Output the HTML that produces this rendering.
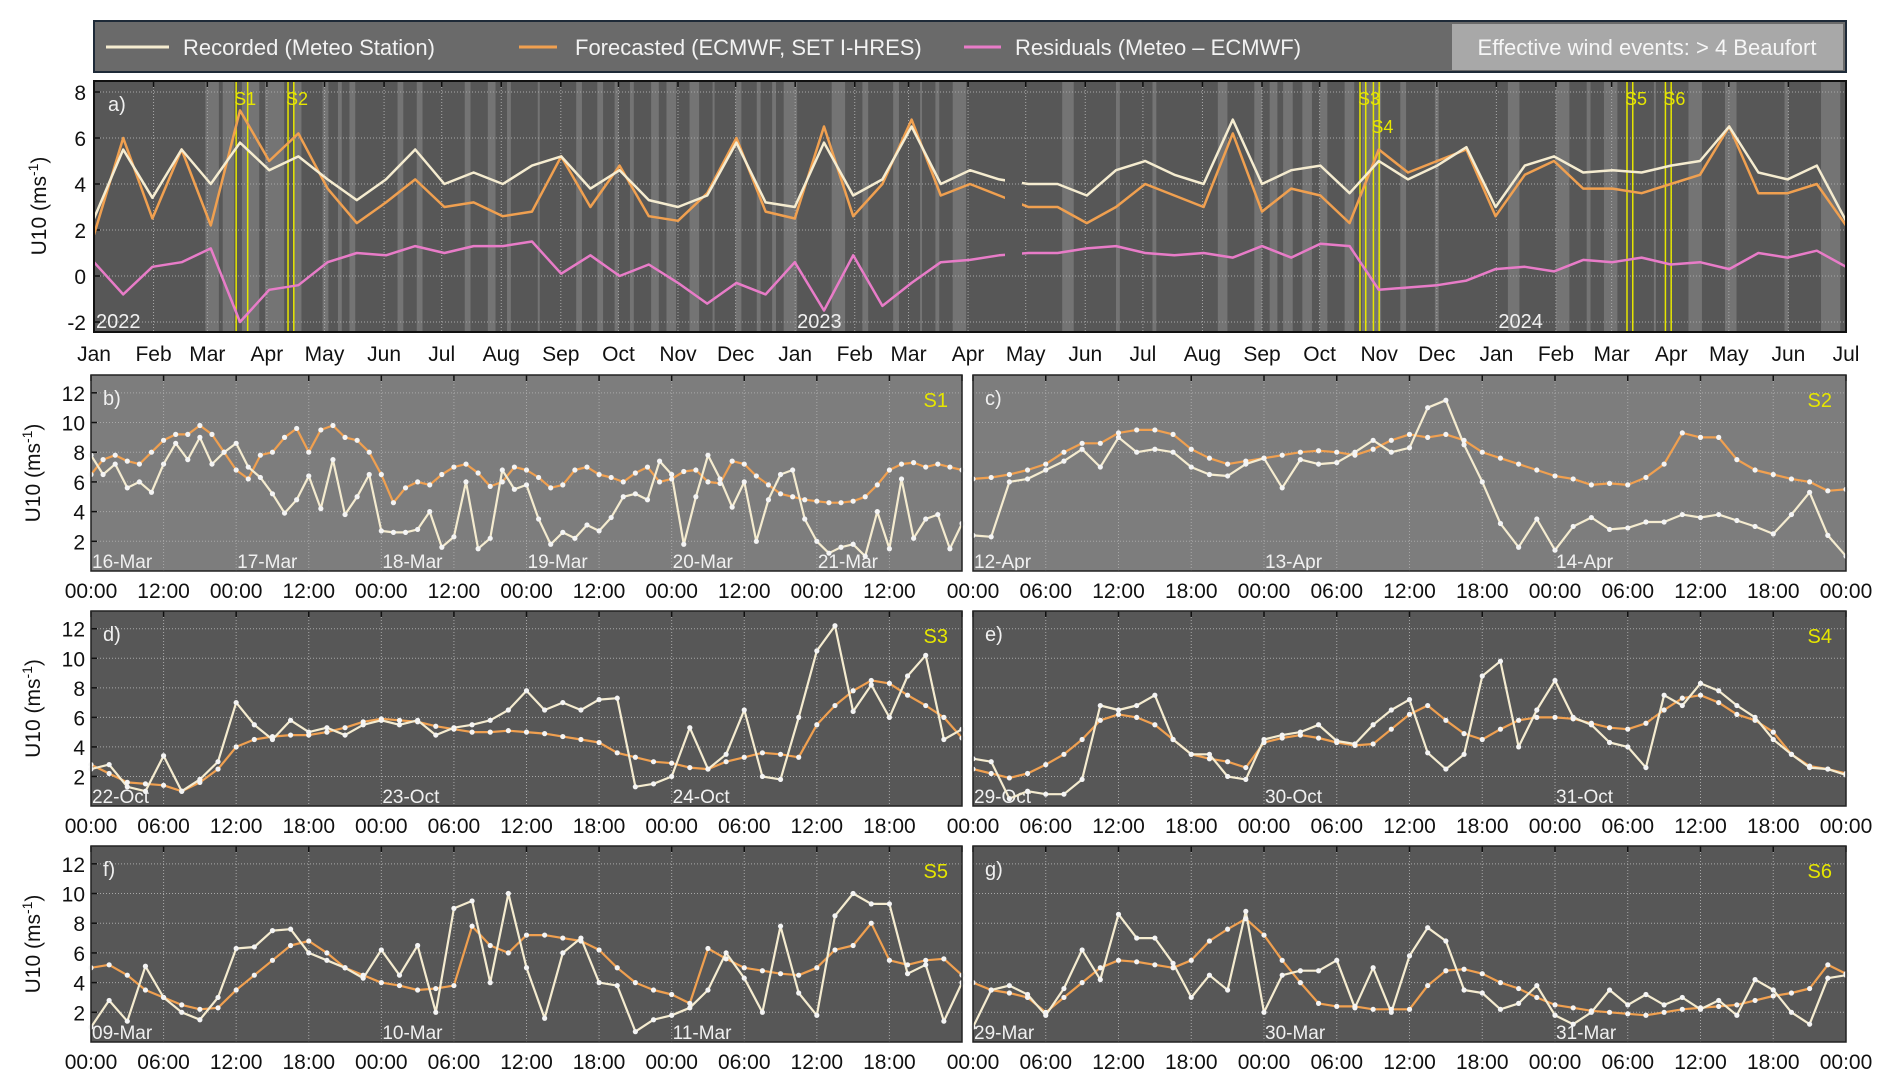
<!DOCTYPE html>
<html><head><meta charset="utf-8"><style>
html,body{margin:0;padding:0;background:#fff;}
svg{display:block;font-family:"Liberation Sans",Arial,sans-serif;}
</style></head><body>
<svg id="chart" width="1892" height="1089" viewBox="0 0 1892 1089" xmlns="http://www.w3.org/2000/svg">
<defs><clipPath id="gapclip"><rect x="94" y="81" width="911" height="251"/><rect x="1022" y="81" width="824" height="251"/></clipPath></defs>
<g id="legend">
<rect x="94" y="21" width="1752" height="51" fill="#6a6a6a" stroke="#1e2a38" stroke-width="2"/>
<rect x="1452" y="24" width="391" height="46" fill="#a8a8a8"/>
<g><line x1="106" y1="47" x2="169" y2="47" stroke="#f5ecd0" stroke-width="3"/><text x="183" y="55" fill="#f2f2f2" font-size="22">Recorded (Meteo Station)</text></g>
<g><line x1="519" y1="47" x2="557" y2="47" stroke="#f0a050" stroke-width="3"/><text x="575" y="55" fill="#f2f2f2" font-size="22">Forecasted (ECMWF, SET I-HRES)</text></g>
<g><line x1="964" y1="47" x2="1001" y2="47" stroke="#e87cc8" stroke-width="3"/><text x="1015" y="55" fill="#f2f2f2" font-size="22">Residuals (Meteo – ECMWF)</text></g>
<text x="1647" y="55" fill="#f6f6f6" font-size="22" text-anchor="middle">Effective wind events: &gt; 4 Beaufort</text>
</g>
</svg>
<script>
// ---------- Panel a data (semi-monthly, day index = i*15.2 from 1-Jan-2022) ----------
const recordedA=[2.5,5.5,3.4,5.5,4.0,5.8,4.6,5.2,4.2,3.3,4.2,5.5,4.0,4.5,4.0,4.8,5.2,3.8,4.6,3.3,3.0,3.5,5.8,3.2,
3.0,5.8,3.5,4.2,6.5,4.0,4.6,4.2,4.0,4.0,3.5,4.6,5.0,4.4,4.0,6.8,4.0,4.6,4.8,3.6,5.0,4.2,4.8,5.6,
3.0,4.8,5.2,4.5,4.6,4.5,4.8,5.0,6.5,4.5,4.2,4.8,2.4];
const forecastA=[1.8,6.0,2.5,5.5,2.2,7.2,5.0,6.2,3.8,2.3,3.2,4.2,3.0,3.2,2.6,2.8,5.2,3.0,4.8,2.6,2.4,3.6,6.0,2.8,
2.5,6.5,2.6,4.0,6.8,3.5,4.0,3.5,3.0,3.0,2.3,3.0,4.0,3.5,3.0,6.2,2.8,3.8,3.5,2.3,5.5,4.5,5.0,5.5,
2.6,4.4,5.0,3.8,3.8,3.6,4.0,4.4,6.5,3.6,3.6,4.0,2.2];
const residualA=[0.6,-0.8,0.4,0.6,1.2,-2.0,-0.6,-0.4,0.6,1.0,0.9,1.3,1.0,1.3,1.3,1.5,0.1,0.9,0.0,0.5,-0.3,-1.2,-0.3,-0.8,
0.6,-1.5,0.9,-1.3,-0.3,0.6,0.7,0.9,1.0,1.0,1.2,1.3,1.0,0.9,1.0,0.8,1.3,0.8,1.4,1.3,-0.6,-0.5,-0.4,-0.2,
0.3,0.4,0.2,0.7,0.6,0.8,0.5,0.6,0.3,1.0,0.8,1.1,0.4];
const monthLabels=["Jan","Feb","Mar","Apr","May","Jun","Jul","Aug","Sep","Oct","Nov","Dec","Jan","Feb","Mar","Apr","May","Jun","Jul","Aug","Sep","Oct","Nov","Dec","Jan","Feb","Mar","Apr","May","Jun","Jul"];
const monthDays=[0,31,59,90,120,151,181,212,243,273,304,334,365,396,424,455,485,516,546,577,608,638,669,699,730,761,790,821,851,882,912];
const yearLabels=["2022","2023","2024"];
const yearDays=[0,365,730];
const yTicksA=[-2,0,2,4,6,8];
const eventBands=[[58,65],[67,73],[77,86],[89,99],[104,108],[119,122],[127,129],[133,136],[158,161],[168,171],[193,196],[205,209],[215,217],[231,232],[251,254],[262,265],[271,273],[279,281],[290,294],[298,303],[310,315],[322,323],[334,337],[345,347],[353,355],[359,366],[384,391],[400,403],[416,419],[430,431],[438,440],[447,454],[504,510],[532,534],[551,553],[585,590],[604,608],[612,616],[619,624],[629,634],[638,642],[651,656],[660,670],[680,683],[698,700],[736,742],[761,768],[777,779],[786,793],[812,813],[830,837],[849,855],[880,882],[899,909]];
const stormNames=["S1","S2","S3","S4","S5","S6"];
const stormStart=[74,101,659,666,798,818];
const stormEnd=[80,104,662,669,801,821];

// ---------- Zoom panels ----------
const recB=[7.8,6.5,7.2,5.6,6.0,5.3,7.2,8.6,7.5,9.0,7.2,8.0,8.6,7.0,6.3,5.2,3.9,4.8,6.4,4.2,7.5,3.8,5.0,6.5,2.7,2.6,2.6,2.8,4.0,1.6,2.3,6.0,1.5,2.2,6.8,5.5,5.8,3.5,1.8,2.6,2.2,3.1,2.7,3.6,5.0,5.2,4.8,7.4,6.5,1.8,5.0,7.8,6.2,4.3,6.0,2.0,4.8,6.5,6.8,3.5,2.0,1.2,1.6,1.8,1.0,4.0,1.5,6.2,2.2,3.5,3.8,1.5,3.2];
const fcB=[6.5,7.5,7.8,7.4,7.2,8.0,8.8,9.2,9.2,9.8,9.2,8.0,6.8,6.2,7.8,8.0,9.0,9.6,8.0,9.5,9.8,9.0,8.8,8.0,6.5,4.6,5.6,6.0,5.8,6.5,7.0,7.2,6.6,5.7,6.0,7.0,6.8,6.3,5.6,5.8,6.8,7.0,6.5,6.3,6.0,6.6,7.0,6.0,6.2,6.7,6.8,6.0,5.9,7.4,7.2,6.4,5.8,5.2,5.0,4.8,4.7,4.6,4.6,4.7,5.0,5.8,6.8,7.2,7.3,7.0,7.2,7.0,6.8];
const recC=[2.4,2.3,6.0,6.2,6.8,7.4,8.2,7.0,9.0,8.0,8.2,8.0,7.0,6.5,6.4,7.2,7.6,5.6,7.5,7.2,7.3,8.0,8.8,8.0,8.3,11.0,11.5,8.5,6.0,3.2,1.6,3.5,1.4,3.0,3.6,2.8,2.9,3.3,3.3,3.8,3.6,3.8,3.4,3.0,2.5,3.8,5.3,2.4,1.0];
const fcC=[6.2,6.3,6.5,6.8,7.2,8.0,8.6,8.6,9.3,9.5,9.5,9.2,8.2,7.6,7.2,7.4,7.6,7.8,8.0,8.1,8.0,7.8,8.2,8.8,9.2,9.0,9.2,8.8,8.0,7.6,7.2,6.8,6.4,6.2,5.8,5.9,5.8,6.3,7.2,9.3,9.0,9.0,7.5,6.8,6.5,6.2,6.0,5.4,5.5];
const recD=[2.5,2.8,1.3,1.0,3.4,1.0,1.8,3.0,7.0,5.5,4.5,5.8,5.0,5.3,4.8,5.5,5.8,5.5,5.8,4.8,5.3,5.5,5.8,6.5,7.8,6.5,7.0,6.5,7.2,7.3,1.3,1.5,2.0,5.3,2.5,3.5,6.5,2.0,1.8,6.0,10.5,12.2,6.4,8.2,6.0,8.8,10.2,4.5,5.2];
const fcD=[2.8,2.2,1.6,1.5,1.4,1.0,1.6,2.5,4.0,4.5,4.7,4.8,4.8,5.0,5.3,5.7,5.9,5.8,5.7,5.4,5.2,5.0,5.0,5.1,5.0,4.9,4.7,4.5,4.3,3.6,3.3,3.0,2.9,2.6,2.5,3.0,3.3,3.6,3.5,3.3,5.5,6.8,7.8,8.5,8.3,7.5,6.8,6.0,4.6];
const recE=[3.2,3.0,0.5,1.0,0.8,0.8,1.8,6.8,6.5,6.8,7.5,4.5,3.5,3.5,2.0,1.8,4.5,4.8,5.0,5.5,4.4,4.2,5.5,6.5,7.2,3.6,2.5,3.5,8.8,9.8,4.0,6.5,8.5,6.0,5.5,4.3,4.0,2.6,7.5,6.8,8.3,7.8,6.8,6.0,4.5,3.5,2.6,2.5,2.1];
const fcE=[2.5,2.2,1.9,2.2,2.8,3.5,4.5,5.8,6.2,6.0,5.5,4.5,3.5,3.2,3.0,2.6,4.3,4.6,4.8,4.6,4.3,4.1,4.2,5.2,6.2,6.8,5.8,4.9,4.5,5.2,5.8,6.0,6.0,5.9,5.6,5.3,5.2,5.6,6.5,7.3,7.5,7.0,6.2,5.8,5.0,3.5,2.7,2.5,2.2];
const recF=[1.0,2.8,1.4,5.1,3.0,2.0,1.5,3.0,6.3,6.4,7.5,7.6,6.0,5.5,5.0,4.3,6.2,4.5,6.5,2.0,9.0,9.5,4.0,10.0,5.0,1.6,6.0,7.0,4.0,3.8,0.7,1.5,1.8,2.3,3.5,6.0,4.3,2.0,7.8,3.3,1.8,8.5,10.0,9.3,9.3,4.6,5.2,1.4,4.0];
const fcF=[5.0,5.2,4.5,3.5,3.0,2.5,2.2,2.3,3.5,4.5,5.5,6.5,6.8,6.0,5.0,4.5,4.0,3.8,3.5,3.6,3.8,7.8,6.5,6.0,7.2,7.2,7.0,6.8,6.2,5.0,4.0,3.5,3.2,2.6,6.3,5.6,5.0,4.8,4.6,4.5,5.0,6.2,6.5,8.0,5.5,5.2,5.5,5.6,4.5];
const recG=[1.0,3.5,3.8,3.2,1.8,3.6,6.2,4.2,8.6,7.0,7.0,5.3,3.0,4.5,3.5,8.8,2.0,4.5,4.8,4.8,5.5,2.3,5.0,2.0,5.8,7.7,6.8,3.5,3.3,2.2,2.6,3.8,1.8,1.2,2.0,3.5,2.5,3.2,2.5,3.0,2.2,2.8,1.8,4.2,3.5,2.0,1.2,4.3,4.5];
const fcG=[4.0,3.5,3.3,3.0,2.0,3.0,4.0,5.0,5.5,5.4,5.2,5.0,5.5,6.8,7.6,8.3,7.2,5.5,4.0,2.6,2.4,2.4,2.2,2.2,2.2,3.8,4.8,4.9,4.6,4.0,3.6,3.0,2.5,2.3,2.1,2.0,1.9,1.8,2.0,2.2,2.3,2.4,2.5,2.8,3.1,3.3,3.6,5.2,4.6];
const dayLabelsB=["16-Mar","17-Mar","18-Mar","19-Mar","20-Mar","21-Mar"];
const dayLabelsC=["12-Apr","13-Apr","14-Apr"];
const dayLabelsD=["22-Oct","23-Oct","24-Oct"];
const dayLabelsE=["29-Oct","30-Oct","31-Oct"];
const dayLabelsF=["09-Mar","10-Mar","11-Mar"];
const dayLabelsG=["29-Mar","30-Mar","31-Mar"];
const yTicksSub=[2,4,6,8,10,12];

const NS="http://www.w3.org/2000/svg";
const svg=document.getElementById('chart');
function mk(tag,attrs,parent){const e=document.createElementNS(NS,tag);for(const k in attrs)e.setAttribute(k,attrs[k]);(parent||svg).appendChild(e);return e;}
function linePath(xs,ys,fx,fy){let d="",pen=false;for(let i=0;i<ys.length;i++){if(ys[i]===null){pen=false;continue;}d+=(pen?"L":"M")+fx(xs[i]).toFixed(1)+" "+fy(ys[i]).toFixed(1);pen=true;}return d;}
function yTitle(cx,cy,g){const t=mk('text',{x:cx,y:cy,'font-size':21,fill:'#111','text-anchor':'middle',transform:`rotate(-90 ${cx} ${cy})`},g);


t.appendChild(document.createTextNode('U10 (ms'));const s=mk('tspan',{'baseline-shift':'super','font-size':14},t);s.textContent='-1';const s2=mk('tspan',{},t);s2.textContent=')';}

// ---------- Panel a ----------
(function(){
const X0=94,X1=1846,Y0=81,Y1=332;
const fx=d=>X0+(X1-X0)*d/912;
const fy=v=>322-(v+2)*23;
const g=mk('g',{});


const bg=mk('rect',{x:X0,y:Y0,width:X1-X0,height:Y1-Y0,fill:'#575757'},g);


eventBands.forEach(b=>{const r=mk('rect',{x:fx(b[0]),y:Y0,width:Math.max(2,fx(b[1])-fx(b[0])),height:Y1-Y0,fill:'#747474'},g);

});
yTicksA.forEach(v=>{const y=fy(v);mk('line',{x1:X0,x2:X1,y1:y,y2:y,stroke:'#a8a8a8','stroke-width':1,'stroke-dasharray':'1 2'},g);
mk('line',{x1:X0,x2:X0+6,y1:y,y2:y,stroke:'#111','stroke-width':1.5},g);
const t=mk('text',{x:X0-8,y:y+8,'font-size':21,fill:'#111','text-anchor':'end'},g);t.textContent=v;

});
monthDays.forEach((d,i)=>{const x=fx(d);mk('line',{x1:x,x2:x,y1:Y0,y2:Y1,stroke:'#a8a8a8','stroke-width':1,'stroke-dasharray':'1 2'},g);
mk('line',{x1:x,x2:x,y1:Y0,y2:Y0+6,stroke:'#111','stroke-width':1.5},g);
const t=mk('text',{x:x,y:361,'font-size':21,fill:'#111','text-anchor':'middle'},g);t.textContent=monthLabels[i];

});
yearDays.forEach((d,i)=>{const t=mk('text',{x:fx(d)+2,y:Y1-4,'font-size':20,fill:'#f0f0f0'},g);t.textContent=yearLabels[i];

});
stormNames.forEach((n,i)=>{[stormStart[i],stormEnd[i]].forEach(d=>{const l=mk('line',{x1:fx(d),x2:fx(d),y1:Y0,y2:Y1,stroke:'#e6e600','stroke-width':1.5},g);

});
const t=mk('text',{x:fx(stormStart[i])-2,y:(n==='S4')?133:105,'font-size':18,fill:'#e6e600'},g);t.textContent=n;

});
const xs=recordedA.map((_,i)=>i*912/60);
const lg=mk('g',{'clip-path':'url(#gapclip)'},g);
const pr=mk('path',{d:linePath(xs,forecastA,fx,fy),fill:'none',stroke:'#f0a050','stroke-width':2.5,'stroke-linejoin':'round'},lg);


const pc=mk('path',{d:linePath(xs,recordedA,fx,fy),fill:'none',stroke:'#f5ecd0','stroke-width':2.5,'stroke-linejoin':'round'},lg);


const pp=mk('path',{d:linePath(xs,residualA,fx,fy),fill:'none',stroke:'#e87cc8','stroke-width':2.5,'stroke-linejoin':'round'},lg);


const lb=mk('text',{x:X0+14,y:Y0+30,'font-size':20,fill:'#f0f0f0'},g);lb.textContent='a)';


mk('rect',{x:X0,y:Y0,width:X1-X0,height:Y1-Y0,fill:'none',stroke:'#111','stroke-width':2},g);
yTitle(46,206,g);
})();

// ---------- Sub panels ----------
function subPanel(o){
const {X0,X1,Y0,Y1,hours,step,tickH,rec,fc,days,label,storm,bgc,name,showY,firstTick}=o;
const fx=h=>X0+(X1-X0)*h/hours;
const fy=v=>Y1-(Y1-Y0)*v/13.2;
const g=mk('g',{});


const bg=mk('rect',{x:X0,y:Y0,width:X1-X0,height:Y1-Y0,fill:bgc},g);


yTicksSub.forEach(v=>{const y=fy(v);mk('line',{x1:X0,x2:X1,y1:y,y2:y,stroke:'#a8a8a8','stroke-width':1,'stroke-dasharray':'1 2'},g);
if(showY){mk('line',{x1:X0,x2:X0+6,y1:y,y2:y,stroke:'#111','stroke-width':1.5},g);
const t=mk('text',{x:X0-6,y:y+8,'font-size':21,fill:'#111','text-anchor':'end'},g);t.textContent=v;

}});
const nT=hours/tickH;
for(let k=0;k<=nT;k++){const h=k*tickH,x=fx(h);
if(k>0&&k<nT)mk('line',{x1:x,x2:x,y1:Y0,y2:Y1,stroke:'#a8a8a8','stroke-width':1,'stroke-dasharray':'1 2'},g);
mk('line',{x1:x,x2:x,y1:Y0,y2:Y0+6,stroke:'#111','stroke-width':1.5},g);
if(k>=firstTick&&(k<nT||o.lastLabel)){const hh=(h%24);const t=mk('text',{x:x,y:Y1+27,'font-size':21,fill:'#111','text-anchor':'middle'},g);
t.textContent=(hh<10?'0':'')+hh+':00';

}}
days.forEach((d,i)=>{const t=mk('text',{x:fx(i*24)+1,y:Y1-3,'font-size':19,fill:'#f0f0f0'},g);t.textContent=d;

});
const xs=rec.map((_,i)=>i*step);
const pf=mk('path',{d:linePath(xs,fc,fx,fy),fill:'none',stroke:'#f0a050','stroke-width':2.2,'stroke-linejoin':'round'},g);


const pr=mk('path',{d:linePath(xs,rec,fx,fy),fill:'none',stroke:'#f5ecd0','stroke-width':2.2,'stroke-linejoin':'round'},g);


[fc,rec].forEach(arr=>arr.forEach((v,i)=>{const c=mk('circle',{cx:fx(xs[i]),cy:fy(v),r:2.6,fill:'#f4f4f4'},g);

}));
const lb=mk('text',{x:X0+12,y:Y0+30,'font-size':20,fill:'#f0f0f0'},g);lb.textContent=label;


const st=mk('text',{x:X1-14,y:Y0+32,'font-size':20,fill:'#e6e600','text-anchor':'end'},g);st.textContent=storm;


mk('rect',{x:X0,y:Y0,width:X1-X0,height:Y1-Y0,fill:'none',stroke:'#222','stroke-width':1.5},g);
if(showY)yTitle(40,(Y0+Y1)/2,g);
}
const L0=91,L1=962,R0=973,R1=1846;
subPanel({X0:L0,X1:L1,Y0:375,Y1:571,hours:144,step:2,tickH:12,rec:recB,fc:fcB,days:dayLabelsB,label:'b)',storm:'S1',bgc:'#7d7d7d',name:'panel-b',showY:true,firstTick:0});
subPanel({X0:R0,X1:R1,Y0:375,Y1:571,hours:72,step:1.5,tickH:6,rec:recC,fc:fcC,days:dayLabelsC,label:'c)',storm:'S2',bgc:'#7d7d7d',name:'panel-c',showY:false,firstTick:0,lastLabel:true});
subPanel({X0:L0,X1:L1,Y0:611,Y1:806,hours:72,step:1.5,tickH:6,rec:recD,fc:fcD,days:dayLabelsD,label:'d)',storm:'S3',bgc:'#575757',name:'panel-d',showY:true,firstTick:0});
subPanel({X0:R0,X1:R1,Y0:611,Y1:806,hours:72,step:1.5,tickH:6,rec:recE,fc:fcE,days:dayLabelsE,label:'e)',storm:'S4',bgc:'#575757',name:'panel-e',showY:false,firstTick:0,lastLabel:true});
subPanel({X0:L0,X1:L1,Y0:846,Y1:1042,hours:72,step:1.5,tickH:6,rec:recF,fc:fcF,days:dayLabelsF,label:'f)',storm:'S5',bgc:'#575757',name:'panel-f',showY:true,firstTick:0});
subPanel({X0:R0,X1:R1,Y0:846,Y1:1042,hours:72,step:1.5,tickH:6,rec:recG,fc:fcG,days:dayLabelsG,label:'g)',storm:'S6',bgc:'#575757',name:'panel-g',showY:false,firstTick:0,lastLabel:true});
</script>
</body></html>
